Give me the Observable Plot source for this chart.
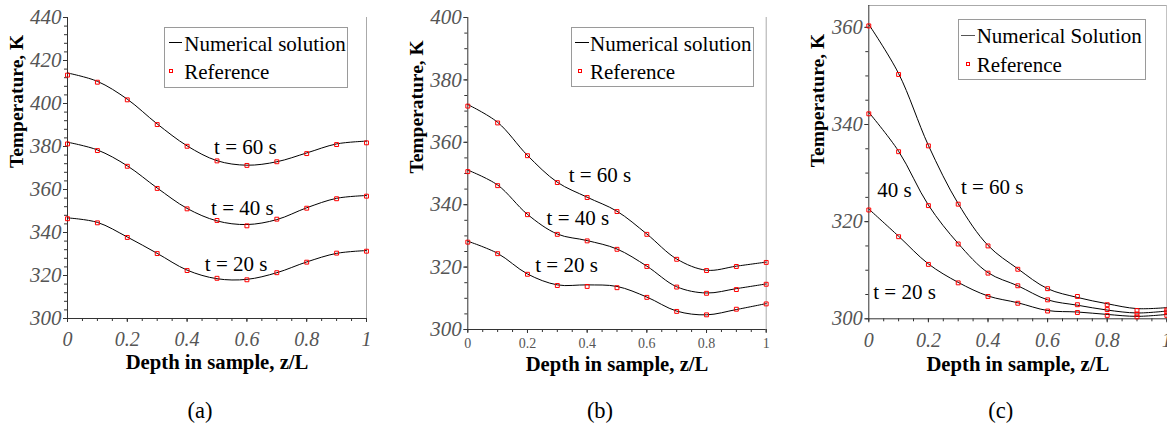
<!DOCTYPE html>
<html>
<head>
<meta charset="utf-8">
<script src="https://cdn.jsdelivr.net/npm/d3@7"></script>
<script src="https://cdn.jsdelivr.net/npm/@observablehq/plot@0.6"></script>
<style>
  body { margin: 0; background: #fff; }
  #wrap { position: relative; width: 1167px; height: 435px; overflow: hidden; font-family: "Liberation Serif", "Times New Roman", serif; background: #fff; }
  .panel { position: absolute; top: 0; }
  .legend { position: absolute; border: 1px solid #9a9a9a; background: #fff; box-sizing: border-box; }
  .legend span { position: absolute; font-size: 21px; line-height: 1; color: #000; white-space: nowrap; }
  .legend i { position: absolute; display: block; }
</style>
</head>
<body>
<div id="wrap"></div>
<script>
// ---------- data ----------
const depth = [0, 0.1, 0.2, 0.3, 0.4, 0.5, 0.6, 0.7, 0.8, 0.9, 1];

// Panel (a)
const aNum20 = [346.8, 344.7, 337.9, 330.3, 322.5, 318.5, 318.2, 321.3, 326.3, 330.3, 331.6];
const aNum40 = [382.0, 378.4, 371.0, 360.7, 351.2, 345.4, 343.7, 346.0, 351.5, 355.9, 357.2];
const aNum60 = [414.2, 410.3, 402.0, 390.5, 380.3, 373.4, 371.3, 372.9, 377.0, 381.2, 382.5];
const aRef20 = [346.4, 344.5, 337.7, 330.2, 322.3, 318.7, 318.0, 321.3, 326.2, 330.4, 331.3];
const aRef40 = [381.2, 378.1, 370.8, 360.5, 351.0, 345.6, 343.1, 346.2, 351.3, 355.7, 356.9];
const aRef60 = [413.2, 409.9, 401.7, 390.2, 380.1, 373.3, 371.2, 372.9, 376.7, 380.9, 381.7];

// Panel (b)
const bNum20 = [328.3, 324.4, 317.8, 314.3, 314.3, 313.8, 310.4, 305.9, 304.7, 306.4, 308.3];
const bNum40 = [351.1, 346.3, 336.9, 330.6, 328.5, 325.8, 320.3, 313.7, 311.7, 313.1, 314.6];
const bNum60 = [372.1, 366.4, 355.8, 347.2, 342.4, 337.9, 330.6, 322.6, 319.0, 320.3, 321.6];
const bRef20 = [328.0, 324.3, 317.7, 314.1, 313.8, 313.4, 310.3, 305.8, 304.7, 306.5, 308.2];
const bRef40 = [350.6, 346.1, 336.8, 330.5, 328.4, 325.7, 320.2, 313.6, 311.6, 312.8, 314.5];
const bRef60 = [371.6, 366.2, 355.7, 347.1, 342.3, 337.8, 330.5, 322.5, 318.9, 320.2, 321.5];

// Panel (c)
const cNum20 = [322.6, 317.0, 311.3, 307.5, 304.7, 303.3, 301.7, 301.4, 300.9, 300.5, 300.9];
const cNum40 = [342.5, 334.5, 323.4, 315.5, 309.5, 306.8, 303.9, 302.8, 301.8, 301.2, 301.6];
const cNum60 = [360.6, 350.5, 335.7, 323.7, 315.1, 310.3, 306.2, 304.4, 303.1, 302.1, 302.3];
const cRef20 = [322.4, 316.9, 311.2, 307.4, 304.6, 303.2, 301.6, 301.3, 300.7, 300.4, 300.7];
const cRef40 = [342.2, 334.4, 323.3, 315.4, 309.4, 306.8, 303.9, 302.9, 301.9, 301.0, 301.4];
const cRef60 = [360.3, 350.3, 335.6, 323.6, 315.0, 310.2, 306.2, 304.6, 302.9, 301.7, 301.8];

// Ticks and labels
const xTicks = [0, 0.2, 0.4, 0.6, 0.8, 1];
const xTickLabels = ["0", "0.2", "0.4", "0.6", "0.8", "1"];
const yTicksA = [300, 320, 340, 360, 380, 400, 420, 440];
const yTicksB = [300, 320, 340, 360, 380, 400];
const yTicksC = [300, 320, 340, 360];
const yTitle = "Temperature, K";
const xTitle = "Depth in sample, z/L";
const captions = ["(a)", "(b)", "(c)"];
const legendLineLabels = ["Numerical solution", "Numerical solution", "Numerical Solution"];
const legendPointLabel = "Reference";
const annLabelsA = ["t = 60 s", "t = 40 s", "t = 20 s"];
const annLabelsB = ["t = 60 s", "t = 40 s", "t = 20 s"];
const annLabelsC = ["40 s", "t = 60 s", "t = 20 s"];

// ---------- helpers ----------
function toRows(series) {
  return series.flatMap((arr, k) => arr.map((v, i) => ({depth: depth[i], temp: v, series: k})));
}
const xMinor = d3.range(0, 1.0001, 0.05);
const fontFam = "'Liberation Serif', 'Times New Roman', serif";

function makePanel(p) {
  const numRows = toRows(p.num);
  const refRows = toRows(p.ref);
  const ann = p.annLabels.map((label, i) => ({label, x: p.annPos[i][0], y: p.annPos[i][1]}));
  return Plot.plot({
    width: p.width,
    height: 435,
    marginLeft: p.ml, marginRight: p.mr, marginTop: p.mt, marginBottom: p.mb,
    x: {domain: [0, 1]},
    y: {domain: p.yDomain},
    style: {fontFamily: fontFam, background: "transparent", overflow: "visible", color: "#000"},
    marks: [
      ...p.borders,
      Plot.axisY(p.yMinor, {tickSize: 3, tickFormat: () => "", stroke: "#333", label: null}),
      Plot.axisY(p.yTicks, {tickSize: 4, tickPadding: 2, fontSize: p.yFont, fontStyle: "italic", fill: "#555", stroke: "#333", label: null, tickFormat: d => String(d)}),
      Plot.axisX(xMinor, {tickSize: 3, tickFormat: () => "", stroke: "#333", label: null}),
      Plot.axisX(xTicks, {tickSize: 4, tickPadding: p.xPad, fontSize: p.xFont, fontStyle: p.xStyle, fill: "#555", stroke: "#333", label: null,
        tickFormat: d => xTickLabels[xTicks.indexOf(d)]}),
      Plot.ruleX([0], {stroke: "#333"}),
      Plot.ruleY([p.yDomain[0]], {stroke: "#333"}),
      Plot.line(numRows, {x: "depth", y: "temp", z: "series", curve: "catmull-rom", stroke: "#000", strokeWidth: 1}),
      Plot.dot(refRows, {x: "depth", y: "temp", symbol: "square", r: 2.2, stroke: "#f00", fill: "none", strokeWidth: 1}),
      Plot.text(ann, {x: "x", y: "y", text: "label", fontSize: 21, fill: "#000"}),
      Plot.text([yTitle], {text: d => d, frameAnchor: "left", dx: -51, dy: p.yTitleDy, rotate: -90, fontWeight: "bold", fontSize: 19.5, fill: "#000"}),
      Plot.text([xTitle], {text: d => d, frameAnchor: "bottom", dy: p.xTitleDy, fontWeight: "bold", fontSize: 20.7, fill: "#000"}),
      Plot.text([p.caption], {text: d => d, frameAnchor: "bottom", dx: -17, dy: p.capDy, fontSize: 22.5, fill: "#000"})
    ]
  });
}

const panels = [
  {
    left: 0, width: 390, ml: 67, mr: 24, mt: 17, mb: 117,
    yDomain: [300, 440], yTicks: yTicksA, yMinor: d3.range(300, 441, 4), yFont: 21,
    xPad: 9, xFont: 20, xStyle: "italic",
    num: [aNum20, aNum40, aNum60], ref: [aRef20, aRef40, aRef60],
    annLabels: annLabelsA, annPos: [[0.595, 379.5], [0.585, 351.2], [0.564, 325.1]],
    borders: [Plot.ruleX([1], {stroke: "#aaa"})],
    yTitleDy: 0, xTitleDy: 50, capDy: 99, caption: captions[0]
  },
  {
    left: 390, width: 390, ml: 77.3, mr: 14.3, mt: 17, mb: 106,
    yDomain: [300, 400], yTicks: yTicksB, yMinor: d3.range(300, 401, 5), yFont: 21,
    xPad: 5, xFont: 14, xStyle: "normal",
    num: [bNum20, bNum40, bNum60], ref: [bRef20, bRef40, bRef60],
    annLabels: annLabelsB, annPos: [[0.443, 349.4], [0.369, 335.6], [0.331, 320.5]],
    borders: [Plot.ruleX([1], {stroke: "#aaa"})],
    yTitleDy: 0, xTitleDy: 41, capDy: 88, caption: captions[1]
  },
  {
    left: 780, width: 387, ml: 88.3, mr: 0.7, mt: 5, mb: 116.7,
    yDomain: [300, 364.5], yTicks: yTicksC, yMinor: d3.range(300, 361, 5), yFont: 20.5,
    xPad: 10, xFont: 20, xStyle: "italic",
    num: [cNum20, cNum40, cNum60], ref: [cRef20, cRef40, cRef60],
    annLabels: annLabelsC, annPos: [[0.086, 326.4], [0.414, 327.1], [0.12, 305.5]],
    borders: [Plot.ruleY([364.5], {stroke: "#aaa"}), Plot.ruleX([1], {stroke: "#aaa"})],
    yTitleDy: 5, xTitleDy: 52, capDy: 99, caption: captions[2]
  }
];

const wrap = document.getElementById("wrap");
panels.forEach(p => {
  const svg = makePanel(p);
  svg.classList.add("panel");
  svg.style.left = p.left + "px";
  wrap.appendChild(svg);
});

// ---------- legends ----------
const legends = [
  {box: [164, 27, 184, 61], line: [169, 182, 42.7], lineColor: "#000", textX: 184.3, t1: 45, sq: [170.5, 71], t2: 73},
  {box: [571, 27, 183, 60], line: [575, 589, 42.7], lineColor: "#000", textX: 590, t1: 44.5, sq: [580, 71], t2: 73},
  {box: [957.7, 19, 188, 61], line: [961, 975, 35], lineColor: "#555", textX: 976.7, t1: 37, sq: [967.7, 64.3], t2: 66}
];
legends.forEach((L, i) => {
  const [bx, by, bw, bh] = L.box;
  const d = document.createElement("div");
  d.className = "legend";
  d.style.left = bx + "px"; d.style.top = by + "px";
  d.style.width = bw + "px"; d.style.height = bh + "px";
  const ox = bx + 1, oy = by + 1;
  const ln = document.createElement("i");
  ln.style.left = (L.line[0] - ox) + "px";
  ln.style.top = (L.line[2] - oy - 0.5) + "px";
  ln.style.width = (L.line[1] - L.line[0]) + "px";
  ln.style.height = "1px";
  ln.style.background = L.lineColor;
  d.appendChild(ln);
  const sq = document.createElement("i");
  sq.style.left = (L.sq[0] - ox - 2) + "px";
  sq.style.top = (L.sq[1] - oy - 2) + "px";
  sq.style.width = "2px"; sq.style.height = "2px";
  sq.style.border = "1px solid #f00";
  d.appendChild(sq);
  const s1 = document.createElement("span");
  s1.textContent = legendLineLabels[i];
  s1.style.left = (L.textX - ox) + "px";
  s1.style.top = (L.t1 - oy - 11) + "px";
  d.appendChild(s1);
  const s2 = document.createElement("span");
  s2.textContent = legendPointLabel;
  s2.style.left = (L.textX - ox) + "px";
  s2.style.top = (L.t2 - oy - 11) + "px";
  d.appendChild(s2);
  wrap.appendChild(d);
});
</script>
</body>
</html>
